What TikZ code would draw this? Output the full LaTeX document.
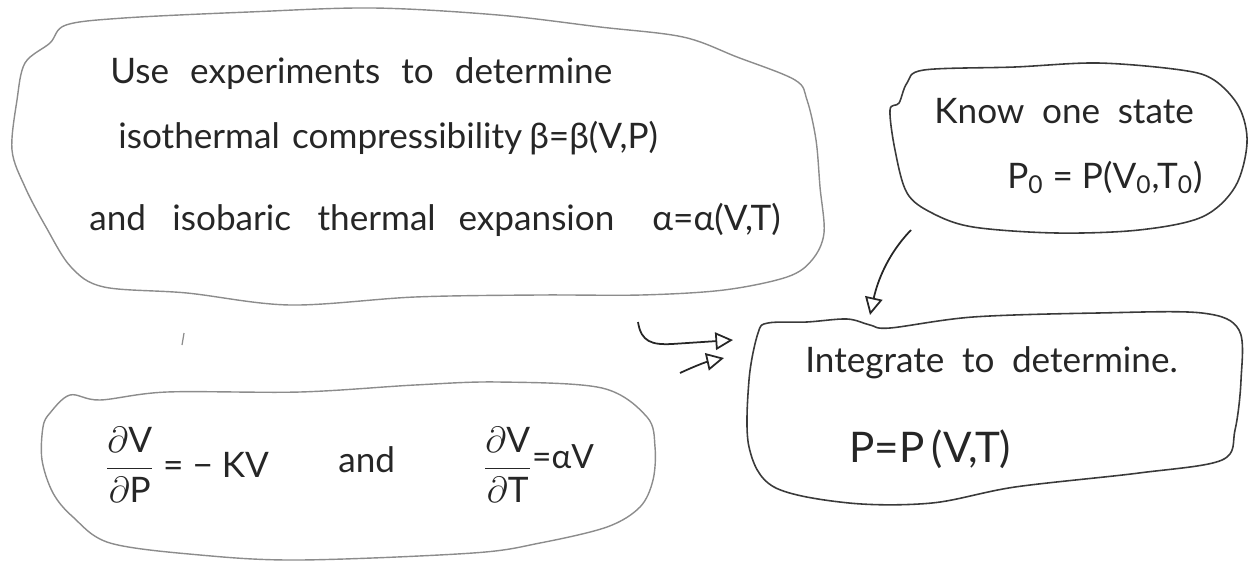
\documentclass[tikz,border=0pt]{standalone}
\usepackage{amsmath}
\usepackage{fontspec}
\setmainfont{Lato}
\usetikzlibrary{arrows.meta}
\definecolor{ink}{HTML}{262626}
\definecolor{pale}{HTML}{8C8C8C}
\definecolor{dark}{HTML}{3A3A3A}
\newcommand{\wg}[1]{\hspace{#1pt}}
\tikzset{
  txt/.style={inner sep=0pt, text=ink, font=\fontsize{20}{24}\selectfont},
  eqtxt/.style={inner sep=0pt, text=ink, font=\fontsize{24}{28}\selectfont},
  paleline/.style={draw=pale, line width=0.8pt},
  darkline/.style={draw=dark, line width=0.9pt},
  flow/.style={draw=ink, line width=1pt, -{Triangle[open, length=10pt, width=10pt]}},
}
\begin{document}
\begin{tikzpicture}[x=0.02cm, y=-0.02cm]
\useasboundingbox (0,0) rectangle (1250,561);

% ---- box A: experiments
\draw[paleline] plot[smooth cycle, tension=0.55] coordinates {
  (50,43) (66,25) (124,18) (249,12) (373,8) (498,15) (600,27) (683,37) (737,57)
  (795,80) (807,100) (816,140) (820,187) (824,233) (812,260) (787,277) (724,290)
  (641,295) (539,295) (415,297) (290,305) (187,293) (104,287) (71,267) (46,227)
  (25,187) (12,150) (17,100) (25,63)};
\node[txt, anchor=base west] (a1) at (110,83) {Use\wg{12}experiments\wg{12}to\wg{12}determine};
\node[txt, anchor=base west] (a2) at (118,148) {isothermal\wg{7}compressibility\wg{4}β=β(V,P)};
\node[txt, anchor=base west] (a3) at (89,230) {and\wg{15}isobaric\wg{15}thermal\wg{13}expansion};
\node[txt, anchor=base west] (a4) at (652,230) {α=α(V,T)};

% ---- box B: known state
\draw[darkline] plot[smooth cycle, tension=0.55] coordinates {
  (907,83) (924,70) (1015,67) (1098,63) (1181,70) (1214,80) (1239,107) (1247,143)
  (1235,187) (1202,217) (1139,230) (1056,233) (973,227) (932,213) (907,193)
  (895,150) (890,110) (899,103)};
\node[txt, anchor=base west] (b1) at (934,123) {Know\wg{10}one\wg{10}state};
\node[txt, anchor=base west] (b2) at (1007,188) {P\textsubscript{0} = P(V\textsubscript{0},T\textsubscript{0})};

% ---- box C: integrate
\draw[darkline] plot[smooth cycle, tension=0.55] coordinates {
  (758,333) (768,323) (807,322) (847,319) (870,325) (890,328) (973,317) (1098,313)
  (1202,313) (1239,330) (1241,380) (1235,430) (1222,460) (1139,473) (1015,487)
  (932,503) (849,503) (774,487) (749,447) (749,380)};
\node[txt, anchor=base west] (c1) at (805,372) {Integrate\wg{10}to\wg{10}determine.};
\node[eqtxt, anchor=base west] (c2) at (849,462) {P=P\,(V,T)};

% ---- box D: differential relations
\draw[paleline] plot[smooth cycle, tension=0.55] coordinates {
  (50,413) (70,395) (100,400) (167,392) (300,392) (415,385) (498,382) (602,388)
  (647,417) (655,447) (653,480) (640,507) (607,527) (540,543) (473,553) (300,560)
  (200,555) (110,543) (73,517) (53,493) (42,460) (43,427)};
\node[txt, anchor=west] (d1) at (105,465) {\(\dfrac{\partial\text{V}}{\partial\text{P}}\) = − KV};
\node[txt, anchor=base west] (d2) at (338,472) {and};
\node[txt, anchor=west] (d3) at (483,465) {\(\dfrac{\partial\text{V}}{\partial\text{T}}\)\raisebox{5pt}{\fontsize{19}{22}\selectfont=αV}};

% stray pen mark
\draw[pale, line width=0.7pt] (184,333) -- (182,345);

% ---- connectors
\coordinate (fromA) at (638,322);
\coordinate (toC1) at (733,340);
\coordinate (fromD) at (680,373);
\coordinate (toC2) at (724,358);
\coordinate (fromB) at (911,230);
\coordinate (toC3) at (870,315);
\draw[flow] (fromA) .. controls (641,342) and (652,345) .. (672,344) -- (toC1);
\draw[flow] (fromD) .. controls (695,366) and (706,362) .. (toC2);
\draw[flow] (fromB) .. controls (884,258) and (876,288) .. (toC3);
\end{tikzpicture}
\end{document}
